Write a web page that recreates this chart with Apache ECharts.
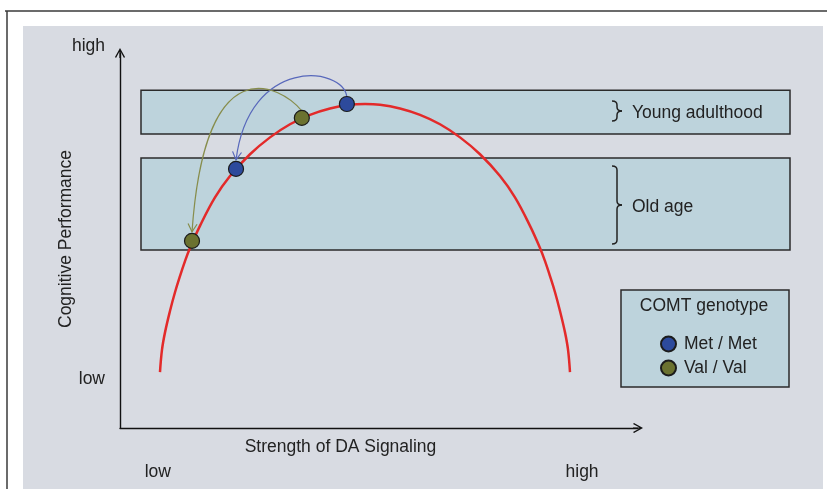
<!DOCTYPE html>
<html><head><meta charset="utf-8">
<script src="https://cdn.jsdelivr.net/npm/echarts@6/dist/echarts.min.js"></script>
<style>html,body{margin:0;padding:0;background:#fff}#chart{width:827px;height:489px}</style>
</head><body><div id="chart"></div>
<script>
// ---------- DATA ----------
const curveX = [7.72, 8.11, 8.69, 9.65, 10.62, 11.58, 12.55, 13.51, 15.44, 18.34, 21.24, 25.10, 28.96, 32.82, 36.68, 40.54, 44.40, 47.30, 50.19, 54.05, 57.92, 61.78, 65.64, 69.50, 73.36, 76.25, 79.15, 81.08, 82.05, 83.01, 83.98, 84.94, 85.91, 86.49, 86.87];
const curveY = [14.9, 20.9, 25.5, 31.2, 36.2, 40.5, 44.5, 48.0, 53.9, 61.5, 67.2, 73.0, 77.5, 81.0, 83.5, 85.2, 86.2, 86.4, 86.2, 85.2, 83.5, 81.0, 77.5, 73.0, 67.2, 61.5, 53.9, 48.0, 44.5, 40.5, 36.2, 31.2, 25.5, 20.9, 14.9];
const genotypes = ['Met / Met', 'Val / Val'];
const ageGroups = ['Young adulthood', 'Old age'];
// index 0 = young adulthood, 1 = old age
const metX = [43.8, 22.4];
const metY = [86.4, 69.1];
const valX = [35.1, 13.9];
const valY = [82.7, 49.9];
const bandLow = [78.4, 47.5];
const bandHigh = [90.1, 72.0];
const xTickValues = [7.3, 89.2];
const xTickLabels = ['low', 'high'];
const yTickValues = [13.1, 100];
const yTickLabels = ['low', 'high'];
const xName = 'Strength of DA Signaling';
const yName = 'Cognitive Performance';
const legendTitle = 'COMT genotype';

// ---------- STYLE / LAYOUT ----------
const FONT = '"Liberation Sans", Arial, Helvetica, sans-serif';
const FS = 17.5;
const TXT = '#222';
const L = { bandLeft: 141, bandRight: 790, braceX: 612, labelX: 632 };
const genoColor = ['#2d4a9c', '#6b7230'];
const arrowColor = ['#5868bb', '#878d4c'];
const arrowCtrl = [ { c1: [-4, -31], c2: [13, -104] }, { c1: [-22, -26], c2: [13, -187] } ];
const chevron = 'path://M5,0 L10,9 L9,10 L5,2.6 L1,10 L0,9 Z M4.4,1.5 L5.6,1.5 L5.6,10 L4.4,10 Z';

function nearestLabel(vals, labels, v) {
  let best = 0;
  vals.forEach((x, i) => { if (Math.abs(x - v) < Math.abs(vals[best] - v)) best = i; });
  return labels[best];
}

function braceChildren(x0, b0, b1, color) {
  const ym = (b0 + b1) / 2, xs = x0 + 5, xt = x0 + 10, r = 4;
  const st = { stroke: color, lineWidth: 1.5, fill: null };
  return [
    { type: 'bezierCurve', shape: { x1: x0, y1: b0, cpx1: xs, cpy1: b0, x2: xs, y2: b0 + r }, style: st },
    { type: 'line', shape: { x1: xs, y1: b0 + r, x2: xs, y2: ym - r }, style: st },
    { type: 'bezierCurve', shape: { x1: xs, y1: ym - r, cpx1: xs, cpy1: ym, x2: xt, y2: ym }, style: st },
    { type: 'bezierCurve', shape: { x1: xt, y1: ym, cpx1: xs, cpy1: ym, x2: xs, y2: ym + r }, style: st },
    { type: 'line', shape: { x1: xs, y1: ym + r, x2: xs, y2: b1 - r }, style: st },
    { type: 'bezierCurve', shape: { x1: xs, y1: b1 - r, cpx1: xs, cpy1: b1, x2: x0, y2: b1 }, style: st }
  ];
}

const chart = echarts.init(document.getElementById('chart'), null, { renderer: 'canvas' });
const option = {
  animation: false,
  backgroundColor: '#ffffff',
  textStyle: { fontFamily: FONT },
  graphic: [
    { type: 'rect', z: -20, silent: true, shape: { x: 23, y: 26, width: 800, height: 463 }, style: { fill: '#d8dbe2' } },
    { type: 'line', z: -20, silent: true, shape: { x1: 5, y1: 11, x2: 827, y2: 11 }, style: { stroke: '#3a3a3a', lineWidth: 1.5 } },
    { type: 'line', z: -20, silent: true, shape: { x1: 7, y1: 11, x2: 7, y2: 489 }, style: { stroke: '#3a3a3a', lineWidth: 1.5 } },
    { type: 'rect', z: -19, silent: true, shape: { x: 621, y: 290, width: 168, height: 97 }, style: { fill: '#bdd3dc', stroke: '#2b2b2b', lineWidth: 1.5 } }
  ],
  title: {
    text: legendTitle, left: 704, top: 297, textAlign: 'center', padding: 0,
    textStyle: { fontSize: FS, fontWeight: 'normal', color: TXT, fontFamily: FONT }
  },
  legend: {
    data: genotypes, orient: 'vertical', left: 660, top: 334, padding: 0,
    itemWidth: 15, itemHeight: 15, itemGap: 4, icon: 'circle',
    textStyle: { fontSize: FS, color: TXT, fontFamily: FONT, lineHeight: 20, padding: [0, 0, 0, 3] }
  },
  grid: { left: 120, right: 189, top: 53, bottom: 61, containLabel: false, outerBoundsMode: 'none' },
  xAxis: {
    type: 'value', min: 0, max: 100,
    splitLine: { show: false }, axisTick: { show: false },
    axisLine: { onZero: false, lineStyle: { color: '#111', width: 1.4 }, symbol: ['none', chevron], symbolSize: [12, 10] },
    axisLabel: {
      customValues: xTickValues, margin: 35, fontSize: FS, color: TXT, fontFamily: FONT,
      formatter: v => nearestLabel(xTickValues, xTickLabels, v)
    },
    name: xName, nameLocation: 'middle', nameGap: 10, nameMoveOverlap: false,
    nameTextStyle: { fontSize: FS, color: TXT, fontFamily: FONT, padding: [0, 77, 0, 0] }
  },
  yAxis: {
    type: 'value', min: 0, max: 100,
    splitLine: { show: false }, axisTick: { show: false },
    axisLine: { onZero: false, lineStyle: { color: '#111', width: 1.4 }, symbol: ['none', chevron], symbolSize: [12, 10] },
    axisLabel: {
      customValues: yTickValues, margin: 15, fontSize: FS, color: TXT, fontFamily: FONT,
      formatter: v => { const t = nearestLabel(yTickValues, yTickLabels, v); return t === 'high' ? '{hi|' + t + '}' : t; },
      rich: { hi: { fontSize: FS, color: TXT, fontFamily: FONT, padding: [0, 0, 14, 0] } }
    },
    name: yName, nameLocation: 'middle', nameGap: 45, nameRotate: 90, nameMoveOverlap: false,
    nameTextStyle: { fontSize: FS, color: TXT, fontFamily: FONT, padding: [0, 0, 0, 3] }
  },
  series: [
    {
      name: 'bands', type: 'custom', clip: false, silent: true, z: 1,
      data: ageGroups.map((g, i) => [bandLow[i], bandHigh[i], i]),
      renderItem: function (params, api) {
        const lo = api.value(0), hi = api.value(1), i = api.value(2);
        const pTop = api.coord([0, hi])[1], pBot = api.coord([0, lo])[1];
        const ys = [metY[i], valY[i]].map(v => api.coord([0, v])[1]);
        const b0 = Math.min.apply(null, ys) - 3, b1 = Math.max.apply(null, ys) + 3;
        return {
          type: 'group',
          children: [
            { type: 'rect', shape: { x: L.bandLeft, y: pTop, width: L.bandRight - L.bandLeft, height: pBot - pTop }, style: { fill: '#bdd3dc', stroke: '#2b2b2b', lineWidth: 1.5 } }
          ].concat(braceChildren(L.braceX, b0, b1, '#222')).concat([
            { type: 'text', x: L.labelX, y: (b0 + b1) / 2 + 2, style: { text: ageGroups[i], fill: TXT, font: FS + 'px ' + FONT, verticalAlign: 'middle', align: 'left' } }
          ])
        };
      }
    },
    {
      name: 'inverted U', type: 'line', z: 3, silent: true,
      data: curveX.map((x, i) => [x, curveY[i]]),
      smooth: 0.4, showSymbol: false,
      lineStyle: { color: '#e32a2a', width: 2.5 }
    },
    {
      name: 'ageing shift', type: 'custom', clip: false, silent: true, z: 4,
      data: [[metX[0], metY[0], metX[1], metY[1], 0], [valX[0], valY[0], valX[1], valY[1], 1]],
      renderItem: function (params, api) {
        const k = api.value(4);
        const a = api.coord([api.value(0), api.value(1)]);
        const b = api.coord([api.value(2), api.value(3)]);
        const S = [a[0], a[1] - 7], E = [b[0], b[1] - 9];
        const c = arrowCtrl[k];
        const C1 = [S[0] + c.c1[0], S[1] + c.c1[1]], C2 = [E[0] + c.c2[0], E[1] + c.c2[1]];
        let dx = E[0] - C2[0], dy = E[1] - C2[1];
        const len = Math.sqrt(dx * dx + dy * dy); dx /= len; dy /= len;
        const px = -dy, py = dx;
        const st = { stroke: arrowColor[k], lineWidth: 1.2, fill: null };
        return {
          type: 'group',
          children: [
            { type: 'bezierCurve', shape: { x1: S[0], y1: S[1], cpx1: C1[0], cpy1: C1[1], cpx2: C2[0], cpy2: C2[1], x2: E[0], y2: E[1] }, style: st },
            { type: 'polyline', shape: { points: [[E[0] - 8 * dx + 4.5 * px, E[1] - 8 * dy + 4.5 * py], E, [E[0] - 8 * dx - 4.5 * px, E[1] - 8 * dy - 4.5 * py]] }, style: st }
          ]
        };
      }
    },
    {
      name: genotypes[0], type: 'scatter', z: 5, symbolSize: 15,
      data: metX.map((x, i) => [x, metY[i]]),
      itemStyle: { color: genoColor[0], borderColor: '#1c1c1c', borderWidth: 1.2, opacity: 1 }
    },
    {
      name: genotypes[1], type: 'scatter', z: 5, symbolSize: 15,
      data: valX.map((x, i) => [x, valY[i]]),
      itemStyle: { color: genoColor[1], borderColor: '#1c1c1c', borderWidth: 1.2, opacity: 1 }
    }
  ]
};
chart.setOption(option);
</script></body></html>
